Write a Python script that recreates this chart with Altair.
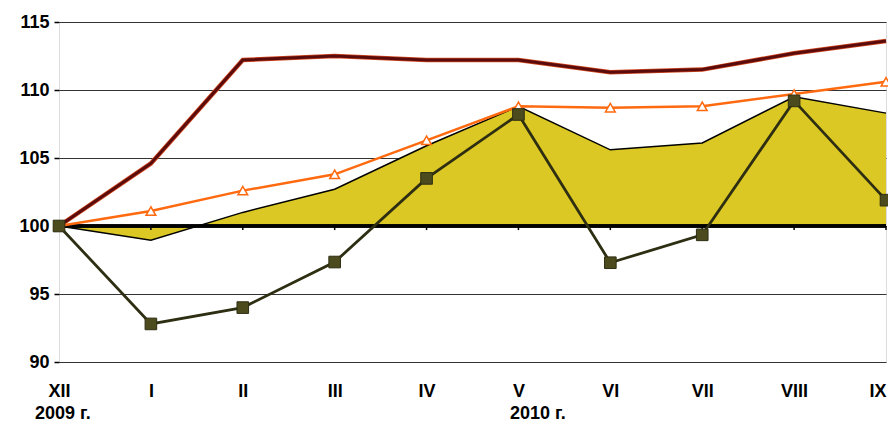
import altair as alt
import pandas as pd

months = ["XII", "I", "II", "III", "IV", "V", "VI", "VII", "VIII", "IX"]
maroon_vals = [100, 104.6, 112.2, 112.5, 112.2, 112.2, 111.3, 111.5, 112.7, 113.6]
orange_vals = [100, 101.1, 102.6, 103.8, 106.3, 108.8, 108.7, 108.8, 109.7, 110.6]
area_vals = [100, 98.95, 101.0, 102.7, 105.9, 108.8, 105.6, 106.1, 109.5, 108.3]
olive_vals = [100, 92.8, 94.0, 97.35, 103.5, 108.2, 97.3, 99.35, 109.2, 101.9]
y_ticks = [90, 95, 100, 105, 110, 115]
year_labels = ["2009 г.", "2010 г."]

df = pd.DataFrame({
    "m": months,
    "maroon": maroon_vals,
    "orange": orange_vals,
    "area": area_vals,
    "olive": olive_vals,
})

FONT = "Liberation Sans"
FS = 18
W, H = 827, 340

xscale = alt.Scale(type="point", padding=0)
xaxis = alt.Axis(title=None, labelAngle=0, ticks=False, domain=False,
                 labelPadding=20, labelFont=FONT, labelFontSize=FS, labelFontWeight="bold",
                 labelColor="black", grid=False, labelFlush=False, labelBound=False,
                 labelOverlap=False,
                 labelAlign=alt.expr("datum.value == 'IX' ? 'right' : 'center'"))
yscale = alt.Scale(domain=[90, 115], nice=False, zero=False)
yaxis = alt.Axis(title=None, values=y_ticks, grid=True, gridColor="#333333",
                 gridWidth=1, domain=False, tickColor="black", tickSize=5,
                 tickWidth=1.5, labelPadding=5, labelFont=FONT, labelFontWeight="bold",
                 labelFontSize=FS, labelColor="black")


def X(field="m:N"):
    return alt.X(field, sort=months, scale=xscale, axis=xaxis)


def Y(field):
    return alt.Y(field, scale=yscale, axis=yaxis)


base = alt.Chart(df)

area = base.mark_area(color="#DCC824", opacity=1,
                      line={"color": "black", "strokeWidth": 1.5}).encode(
    x=X(), y=Y("area:Q"), y2=alt.datum(100),
)

tick_df = pd.DataFrame({"m": months, "a": [100] * len(months), "b": [99.7] * len(months)})
ticks = alt.Chart(tick_df).mark_rule(color="black", strokeWidth=1.5).encode(
    x=X(), y=Y("a:Q"), y2="b:Q",
)

zero_rule = alt.Chart(tick_df).mark_rule(color="black", strokeWidth=2.5).encode(
    y=Y("a:Q"))

maroon_edge = base.mark_line(color="#D2461E", strokeWidth=4.5).encode(
    x=X(), y=Y("maroon:Q"))
maroon = base.mark_line(color="#5A0C0C", strokeWidth=3).encode(
    x=X(), y=Y("maroon:Q"))

orange = base.mark_line(color="#FF6A10", strokeWidth=2.5,
                        point={"shape": "triangle-up", "filled": True, "fill": "white",
                               "stroke": "#FF6A10", "strokeWidth": 1.5, "size": 95}).encode(
    x=X(), y=Y("orange:Q"))

olive = base.mark_line(color="#2E2E12", strokeWidth=2.8,
                       point={"shape": "square", "filled": True, "fill": "#4B4B1E",
                              "stroke": "#2E2E12", "strokeWidth": 1, "size": 135}).encode(
    x=X(), y=Y("olive:Q"))

year1 = alt.Chart(pd.DataFrame({"t": [year_labels[0]]})).mark_text(
    font=FONT, fontSize=FS, fontWeight="bold", color="black",
    align="left", baseline="alphabetic").encode(
    text="t:N", x=alt.value(-24), y=alt.value(397))
year2 = alt.Chart(pd.DataFrame({"t": [year_labels[1]]})).mark_text(
    font=FONT, fontSize=FS, fontWeight="bold", color="black",
    align="left", baseline="alphabetic").encode(
    text="t:N", x=alt.value(451), y=alt.value(397))

chart = alt.layer(area, zero_rule, ticks, maroon_edge, maroon, orange, olive,
                  year1, year2).properties(
    width=W, height=H,
    autosize=alt.AutoSizeParams(type="none"),
    padding={"left": 51, "top": 14, "right": 2, "bottom": 62},
).configure_view(stroke="black", strokeWidth=2.5).configure(background="white")

chart.save("out.html", embed_options={"renderer": "svg", "actions": False})
